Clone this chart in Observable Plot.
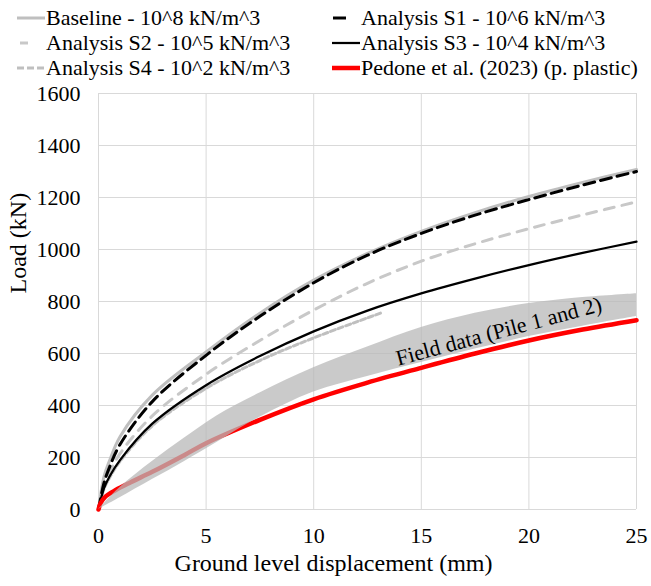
<!DOCTYPE html>
<html>
<head>
<meta charset="utf-8">
<script src="https://cdn.jsdelivr.net/npm/d3@7"></script>
<script src="https://cdn.jsdelivr.net/npm/@observablehq/plot@0.6"></script>
<style>
  html, body { margin: 0; padding: 0; background: white; }
  #wrap { position: relative; width: 651px; height: 586px; font-family: "Liberation Serif", "Times New Roman", serif; color: #000; }
  #legend { position: relative; width: 651px; height: 80px; }
  .item { position: absolute; height: 25px; display: flex; align-items: center; font-size: 22px; white-space: nowrap; }
  .item svg { display: block; margin-right: 1px; }
  #chart svg, #chart svg text, #chart svg g { font-family: "Liberation Serif", "Times New Roman", serif !important; font-variant: normal !important; font-variant-numeric: normal !important; }
</style>
</head>
<body>
<div id="wrap">
  <div id="legend"></div>
  <div id="chart"></div>
</div>
<script>
// ---- data ----
const xs       = [0, 0.25, 0.5, 1, 2.5, 5, 7.5, 10, 12.5, 15, 17.5, 20, 22.5, 25];
const baseline = [0, 125, 185, 280, 440, 606, 755, 882, 985, 1070, 1142, 1204, 1258, 1308];
const s1       = [0, 100, 160, 250, 415, 593, 743, 872, 978, 1062, 1132, 1192, 1248, 1300];
const s2       = [0, 90, 140, 215, 360, 520, 650, 767, 870, 955, 1022, 1080, 1133, 1183];
const s3       = [0, 80, 125, 190, 330, 478, 590, 685, 765, 831, 888, 940, 987, 1030];
const s4X      = [0, 0.25, 0.5, 1, 2.5, 5, 7.5, 10, 12.5, 13.2];
const s4       = [0, 78, 120, 185, 322, 466, 573, 660, 737, 758];
const redX     = [0, 0.1, 0.3, 0.8, 1.5, 2.5, 4, 5, 7.5, 10, 12.5, 15, 17.5, 20, 22.5, 25];
const red      = [0, 25, 48, 75, 105, 145, 210, 255, 345, 424, 488, 545, 600, 650, 692, 728];
const bandX    = [0, 1, 2.5, 4, 5.5, 7.5, 10, 12.5, 15, 17.5, 20, 22.5, 25];
const bandLow  = [0, 45, 115, 185, 258, 355, 452, 512, 565, 617, 665, 705, 742];
const bandHigh = [0, 85, 185, 275, 360, 448, 545, 625, 700, 755, 792, 815, 830];
const bandLabel = [{x: 18.6, y: 685, text: "Field data (Pile 1 and 2)"}];
const xTicks = [0, 5, 10, 15, 20, 25];
const yTicks = [0, 200, 400, 600, 800, 1000, 1200, 1400, 1600];
const seriesNames = [
  "Baseline - 10^8 kN/m^3", "Analysis S1 - 10^6 kN/m^3",
  "Analysis S2 - 10^5 kN/m^3", "Analysis S3 - 10^4 kN/m^3",
  "Analysis S4 - 10^2 kN/m^3", "Pedone et al. (2023) (p. plastic)"
];

const toPts = (X, Y) => X.map((x, i) => ({x, y: Y[i]}));
const band = bandX.map((x, i) => ({x, lo: bandLow[i], hi: bandHigh[i]}));
const SERIF = "Liberation Serif, Times New Roman, serif";

// ---- styles ----
const styles = {
  base: {stroke: "#bfbfbf", strokeWidth: 3},
  s1:   {stroke: "#000000", strokeWidth: 3, strokeDasharray: "11,6"},
  s2:   {stroke: "#c8c8c8", strokeWidth: 3, strokeDasharray: "10,8"},
  s3:   {stroke: "#000000", strokeWidth: 2.25},
  s4:   {stroke: "#bfbfbf", strokeWidth: 3, strokeDasharray: "5,3"},
  red:  {stroke: "#ff0000", strokeWidth: 4.5}
};

// ---- legend ----
const legendItems = [
  {name: seriesNames[0], col: 0, row: 0, st: styles.base, dash: null},
  {name: seriesNames[1], col: 1, row: 0, st: styles.s1, dash: "13,40", off: -1},
  {name: seriesNames[2], col: 0, row: 1, st: styles.s2, dash: "8,40", off: -3},
  {name: seriesNames[3], col: 1, row: 1, st: styles.s3, dash: null},
  {name: seriesNames[4], col: 0, row: 2, st: styles.s4, dash: "7,3", off: 0},
  {name: seriesNames[5], col: 1, row: 2, st: styles.red, dash: null}
];
const legend = document.getElementById("legend");
for (const it of legendItems) {
  const div = document.createElement("div");
  div.className = "item";
  div.style.left = (it.col === 0 ? 17 : 332) + "px";
  div.style.top = (5 + it.row * 25) + "px";
  const ns = "http://www.w3.org/2000/svg";
  const svg = document.createElementNS(ns, "svg");
  svg.setAttribute("width", 28); svg.setAttribute("height", 12);
  const ln = document.createElementNS(ns, "line");
  ln.setAttribute("x1", 0); ln.setAttribute("x2", 28);
  ln.setAttribute("y1", 6); ln.setAttribute("y2", 6);
  ln.setAttribute("stroke", it.st.stroke);
  ln.setAttribute("stroke-width", it.st.strokeWidth);
  if (it.dash) { ln.setAttribute("stroke-dasharray", it.dash); ln.setAttribute("stroke-dashoffset", it.off || 0); }
  svg.appendChild(ln);
  div.appendChild(svg);
  const span = document.createElement("span");
  span.textContent = it.name;
  div.appendChild(span);
  legend.appendChild(div);
}

// ---- chart ----
const curve = "catmull-rom";
const chart = Plot.plot({
  width: 651,
  height: 506,
  marginTop: 13,
  marginBottom: 77,
  marginLeft: 98,
  marginRight: 15,
  style: {fontFamily: SERIF, fontSize: "22px", background: "white", color: "#000", overflow: "visible"},
  x: {domain: [0, 25]},
  y: {domain: [0, 1600]},
  marks: [
    Plot.gridX(xTicks, {stroke: "#d9d9d9", strokeOpacity: 1, strokeWidth: 1}),
    Plot.gridY(yTicks, {stroke: "#d9d9d9", strokeOpacity: 1, strokeWidth: 1}),
    Plot.axisX(xTicks, {tickSize: 0, tickPadding: 18, fontSize: 22, fontFamily: SERIF, fill: "#000", tickFormat: d => String(d), label: null}),
    Plot.axisY(yTicks, {tickSize: 0, tickPadding: 18, fontSize: 22, fontFamily: SERIF, fill: "#000", tickFormat: d => String(d), label: null}),
    Plot.line(toPts(xs, baseline), {x: "x", y: "y", curve, ...styles.base}),
    Plot.line(toPts(xs, s2), {x: "x", y: "y", curve, ...styles.s2}),
    Plot.line(toPts(s4X, s4), {x: "x", y: "y", curve, ...styles.s4}),
    Plot.line(toPts(xs, s3), {x: "x", y: "y", curve, ...styles.s3}),
    Plot.line(toPts(xs, s1), {x: "x", y: "y", curve, ...styles.s1}),
    Plot.line(toPts(redX, red), {x: "x", y: "y", curve, ...styles.red}),
    Plot.areaY(band, {x: "x", y1: "lo", y2: "hi", curve, fill: "#b8b8b8", fillOpacity: 0.75}),
    Plot.text(bandLabel, {x: "x", y: "y", text: "text", rotate: -15, fontSize: 22, fontFamily: SERIF, fill: "#000"}),
    Plot.text(["Load (kN)"], {frameAnchor: "left", dx: -80, dy: -8, rotate: -90, fontSize: 24, fontFamily: SERIF, fill: "#000"}),
    Plot.text(["Ground level displacement (mm)"], {frameAnchor: "bottom", dx: -34, dy: 61, fontSize: 24, fontFamily: SERIF, fill: "#000"})
  ]
});
document.getElementById("chart").appendChild(chart);
</script>
</body>
</html>
